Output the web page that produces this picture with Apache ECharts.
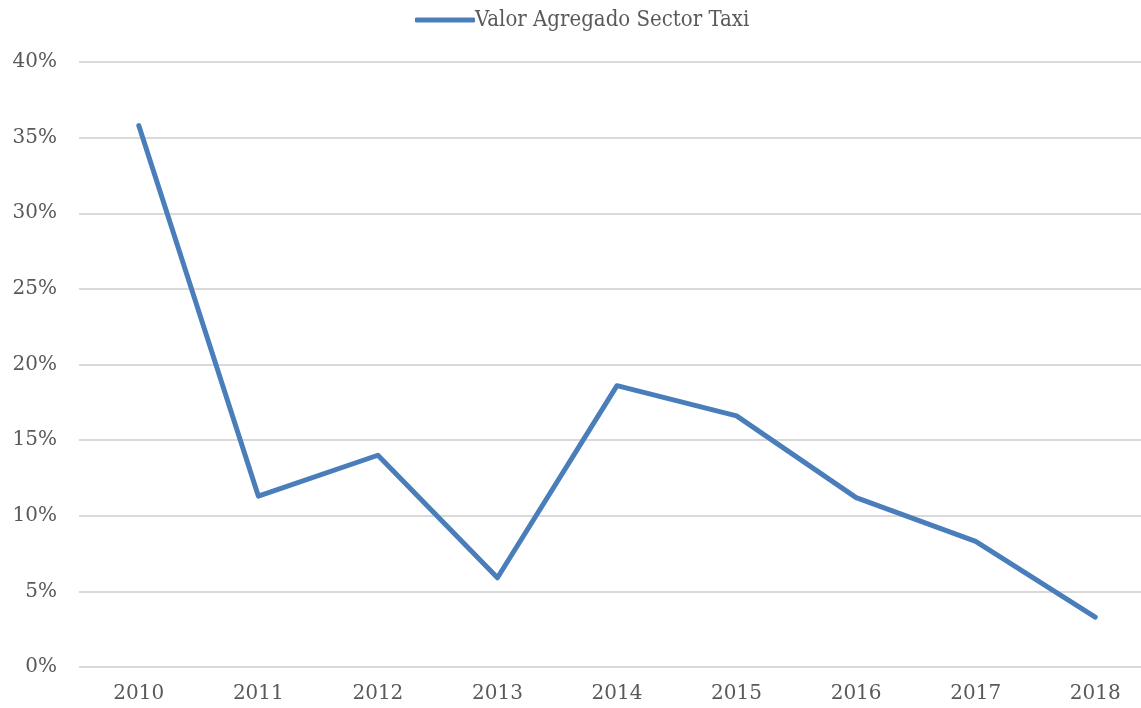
<!DOCTYPE html>
<html>
<head>
<meta charset="utf-8">
<script src="https://cdn.jsdelivr.net/npm/echarts@6/dist/echarts.min.js"></script>
<style>
  html, body { margin: 0; padding: 0; background: #fff; }
  #chart { width: 1141px; height: 708px; }
</style>
</head>
<body>
<div id="chart"></div>
<script>
const years = ['2010', '2011', '2012', '2013', '2014', '2015', '2016', '2017', '2018']
const valorAgregado = [35.8, 11.3, 14.0, 5.9, 18.6, 16.6, 11.2, 8.3, 3.3]
const seriesName = 'Valor Agregado Sector Taxi'

const font = '"DejaVu Serif", serif'
const legendFont = '"DejaVu Serif Condensed", "Liberation Serif", serif'
const textColor = '#595959'

const myChart = echarts.init(document.getElementById('chart'), null, { renderer: 'canvas' })

const option = {
  animation: false,
  textStyle: { fontFamily: font },
  legend: {
    top: 4,
    left: 410,
    itemWidth: 60,
    itemHeight: 5,
    itemGap: 0,
    icon: 'roundRect',
    textStyle: { fontFamily: legendFont, fontSize: 22, color: textColor, padding: [0, 0, 0, -5] },
    data: [{ name: seriesName, icon: 'roundRect' }]
  },
  grid: {
    top: 62,
    left: 79,
    right: -14,
    bottom: 41,
    containLabel: false,
    outerBoundsMode: 'none'
  },
  xAxis: {
    type: 'category',
    boundaryGap: true,
    data: years,
    axisLine: { show: false },
    axisTick: { show: false },
    axisLabel: { color: textColor, fontFamily: font, fontSize: 20, margin: 17 }
  },
  yAxis: {
    type: 'value',
    min: 0,
    max: 40,
    interval: 5,
    axisLine: { show: false },
    axisTick: { show: false },
    splitLine: { lineStyle: { color: '#d9d9d9', width: 2 } },
    axisLabel: {
      color: textColor,
      fontFamily: font,
      fontSize: 20,
      margin: 22,
      formatter: (v) => v + '%'
    }
  },
  series: [
    {
      name: seriesName,
      type: 'line',
      data: valorAgregado,
      symbol: 'none',
      lineStyle: { color: '#4a7ebb', width: 5, join: 'round', cap: 'round' },
      itemStyle: { color: '#4a7ebb' }
    }
  ]
}

option && myChart.setOption(option)
</script>
</body>
</html>
